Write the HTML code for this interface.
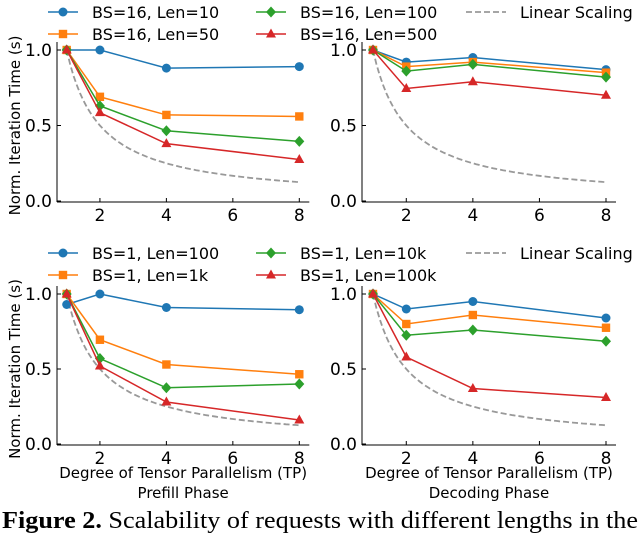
<!DOCTYPE html>
<html><head><meta charset="utf-8"><style>
body{margin:0;background:#fff;width:640px;height:534px;overflow:hidden}
svg text{font-family:"DejaVu Sans","Liberation Sans",sans-serif}
svg text.cap{font-family:"Liberation Serif",serif}
</style></head><body>
<svg id="c" width="640" height="534"></svg>
<script>
const xs=[1,2,4,8];
const xTicks=[2,4,6,8];
const yTicks=[0,0.5,1.0];
const topSeriesNames=["BS=16, Len=10","BS=16, Len=50","BS=16, Len=100","BS=16, Len=500"];
const botSeriesNames=["BS=1, Len=100","BS=1, Len=1k","BS=1, Len=10k","BS=1, Len=100k"];
const tlBlue=[1,1,0.88,0.89], tlOrange=[1,0.69,0.57,0.56], tlGreen=[1,0.63,0.465,0.395], tlRed=[1,0.585,0.38,0.275];
const trBlue=[1,0.92,0.95,0.87], trOrange=[1,0.89,0.92,0.85], trGreen=[1,0.86,0.905,0.82], trRed=[1,0.745,0.79,0.70];
const blBlue=[0.93,1,0.91,0.895], blOrange=[1,0.695,0.53,0.465], blGreen=[1,0.57,0.375,0.40], blRed=[1,0.52,0.28,0.16];
const brBlue=[1,0.90,0.95,0.84], brOrange=[1,0.80,0.86,0.775], brGreen=[1,0.725,0.76,0.685], brRed=[1,0.58,0.37,0.31];
const colors=["#1f77b4","#ff7f0e","#2ca02c","#d62728"];
const markers=["circle","square","diamond","triangle"];
const NS="http://www.w3.org/2000/svg";
const svg=document.getElementById('c');
function el(t,a,p){const e=document.createElementNS(NS,t);for(const k in a)e.setAttribute(k,a[k]);(p||svg).appendChild(e);return e;}
function marker(g,type,x,y,c){
 if(type==="circle")return el('circle',{cx:x,cy:y,r:4.5,fill:c},g);
 if(type==="square")return el('rect',{x:x-4.2,y:y-4.2,width:8.4,height:8.4,fill:c},g);
 if(type==="diamond")return el('polygon',{points:`${x},${y-5.5} ${x+5},${y} ${x},${y+5.5} ${x-5},${y}`,fill:c},g);
 return el('polygon',{points:`${x},${y-5.5} ${x+5},${y+3.5} ${x-5},${y+3.5}`,fill:c},g);
}
function panel(name,x0,x1v,x8v,y1v,y0v,series,showY,xlabel){
 const g=el('g',{});
 
 
 const sx=v=>x1v+(v-1)*(x8v-x1v)/7, sy=v=>y0v+(y1v-y0v)*v;
 const left=x0, right=x8v+10, bottom=y0v+1, top=y1v-8;
 el('line',{x1:left,y1:top,x2:left,y2:bottom,stroke:'#000','stroke-width':1},g);
 el('line',{x1:left,y1:bottom,x2:right,y2:bottom,stroke:'#000','stroke-width':1},g);
 xTicks.forEach(t=>{el('line',{x1:sx(t),y1:bottom,x2:sx(t),y2:bottom-4,stroke:'#000'},g);
  const tx=el('text',{x:sx(t),y:bottom+19,'font-size':17,'text-anchor':'middle'},g);tx.textContent=t;});
 yTicks.forEach(t=>{el('line',{x1:left,y1:sy(t),x2:left+4,y2:sy(t),stroke:'#000'},g);
  const tx=el('text',{x:left-5,y:sy(t)+6,'font-size':17,'text-anchor':'end'},g);tx.textContent=t.toFixed(1);});
 const pts=[];for(let v=1;v<=8.0001;v+=0.1)pts.push(sx(v).toFixed(1)+','+sy(1/v).toFixed(1));
 const ll=el('polyline',{points:pts.join(' '),fill:'none',stroke:'#999','stroke-width':1.8,'stroke-dasharray':'6,3'},g);
 
 
 series.forEach((s,i)=>{
  const pl=el('polyline',{points:xs.map((x,j)=>sx(x)+','+sy(s[j])).join(' '),fill:'none',stroke:colors[i],'stroke-width':1.5},g);
  
  
  xs.forEach((x,j)=>{const m=marker(g,markers[i],sx(x),sy(s[j]),colors[i]);
   
   });
 });
 if(showY){const t=el('text',{transform:`translate(20,${(y0v+y1v)/2}) rotate(-90)`,'font-size':15,'text-anchor':'middle'},g);t.textContent='Norm. Iteration Time (s)';
  }
 if(xlabel){const c=(left+right)/2;
  const t1=el('text',{x:c,y:478,'font-size':15,'text-anchor':'middle'},g);t1.textContent='Degree of Tensor Parallelism (TP)';
  
  const t2=el('text',{x:c,y:498,'font-size':15,'text-anchor':'middle'},g);t2.textContent=xlabel;
  }
}
function legend(y1,y2,names){
 const g=el('g',{});
 
 
 const pos=[[48,y1],[48,y2],[256,y1],[256,y2]];
 names.forEach((n,i)=>{const [x,y]=pos[i];
  el('line',{x1:x,y1:y,x2:x+30,y2:y,stroke:colors[i],'stroke-width':1.5},g);
  marker(g,markers[i],x+15,y,colors[i]);
  const t=el('text',{x:x+44,y:y+6,'font-size':16},g);t.textContent=n;
  });
 el('line',{x1:466,y1:y1,x2:506,y2:y1,stroke:'#999','stroke-width':1.8,'stroke-dasharray':'6,3'},g);
 const t=el('text',{x:520,y:y1+6,'font-size':16},g);t.textContent='Linear Scaling';
 
}
legend(12,34,topSeriesNames);
legend(253,275,botSeriesNames);
panel('prefill-batch-chart',57,66.7,299.3,50,201,[tlBlue,tlOrange,tlGreen,tlRed],true,null);
panel('decode-batch-chart',362,373,606,50,201,[trBlue,trOrange,trGreen,trRed],false,null);
panel('prefill-len-chart',57,66.7,299.3,294,444,[blBlue,blOrange,blGreen,blRed],true,'Prefill Phase');
panel('decode-len-chart',362,373,606,294,444,[brBlue,brOrange,brGreen,brRed],false,'Decoding Phase');
const cap=el('text',{x:2,y:528,'font-size':24,'class':'cap','textLength':636,'lengthAdjust':'spacingAndGlyphs'});


cap.innerHTML='<tspan font-weight="bold">Figure 2.</tspan> Scalability of requests with different lengths in the';
</script>
</body></html>
